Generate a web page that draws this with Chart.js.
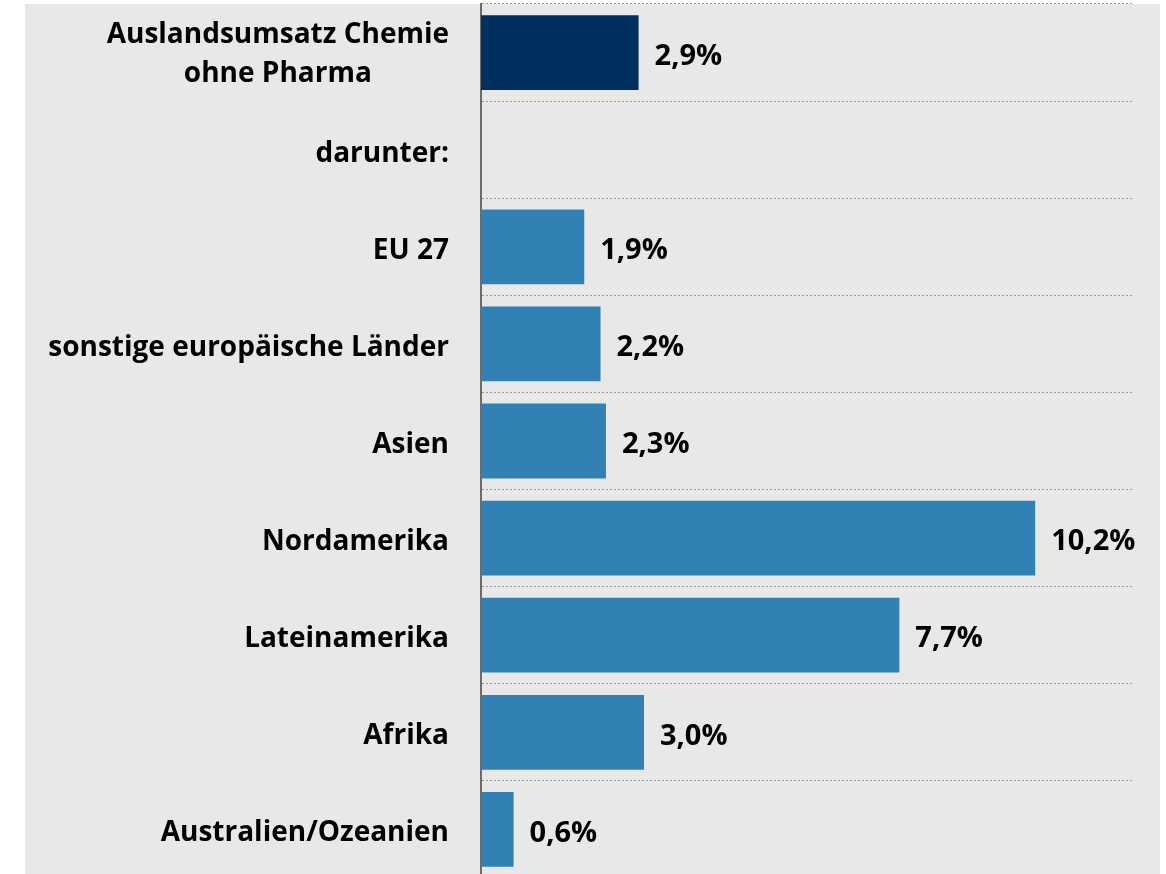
<!DOCTYPE html>
<html><head><meta charset="utf-8">
<script src="https://cdn.jsdelivr.net/npm/chart.js@4.4.0/dist/chart.umd.min.js"></script>
<style>html,body{margin:0;padding:0;background:#fff;overflow:hidden}#wrap{position:relative;width:1166px;height:880px}</style>
</head><body><div id="wrap"><canvas id="c"></canvas></div>
<script>
const categories = [["Auslandsumsatz Chemie","ohne Pharma"],"darunter:","EU 27","sonstige europäische Länder","Asien","Nordamerika","Lateinamerika","Afrika","Australien/Ozeanien"];
const values = [2.9,null,1.9,2.2,2.3,10.2,7.7,3.0,0.6];
const xMin = 0, xMax = 12;

const NAVY = '#00305f', BLUE = '#3181b4', BG = '#e8e8e8';
const FONT = 'bold 28px "Open Sans"';
const VFONT = 'bold 29px "Open Sans"';
const fmt = v => v.toFixed(1).replace('.', ',') + '%';

const bgPlugin = {
  id: 'bg',
  beforeDraw(chart) {
    const {ctx, chartArea} = chart;
    ctx.save();
    ctx.fillStyle = BG;
    ctx.fillRect(25, chartArea.top, 1135, chart.height);
    ctx.restore();
  }
};

const labelPlugin = {
  id: 'labels',
  afterDraw(chart) {
    const {ctx, chartArea} = chart;
    const ys = chart.scales.y;
    ctx.save();
    ctx.font = FONT;
    ctx.fillStyle = '#000';
    ctx.textBaseline = 'middle';
    const right = chartArea.left - 32;
    categories.forEach((lab, i) => {
      const y = ys.getPixelForValue(i);
      if (Array.isArray(lab)) {
        const w = Math.max(...lab.map(l => ctx.measureText(l).width));
        const cx = right - w / 2;
        const lh = 39;
        ctx.textAlign = 'center';
        lab.forEach((l, k) => ctx.fillText(l, cx, y + 2 + (k - (lab.length - 1) / 2) * lh));
      } else {
        ctx.textAlign = 'right';
        ctx.fillText(lab, right, y + 4);
      }
    });
    const meta = chart.getDatasetMeta(0);
    ctx.font = VFONT;
    ctx.textAlign = 'left';
    meta.data.forEach((el, i) => {
      const v = values[i];
      if (v === null || v === undefined) return;
      ctx.fillText(fmt(v), el.x + 16, el.y + 4);
    });
    ctx.restore();
  }
};

new Chart(document.getElementById('c'), {
  type: 'bar',
  data: {
    labels: categories,
    datasets: [{
      data: values,
      backgroundColor: c => c.dataIndex === 0 ? NAVY : BLUE,
      borderWidth: 0,
      barPercentage: 0.77,
      categoryPercentage: 1
    }]
  },
  options: {
    indexAxis: 'y',
    responsive: true,
    maintainAspectRatio: false,
    animation: false,
    layout: {padding: {top: 4, right: 33, bottom: 2, left: 0}},
    plugins: {legend: {display: false}, tooltip: {enabled: false}},
    scales: {
      x: {min: xMin, max: xMax, display: false},
      y: {
        grid: {offset: true, color: '#9a9a9a', lineWidth: 1, drawTicks: false, tickLength: 0},
        border: {display: true, color: '#6b6b6b', width: 2, dash: [2, 2]},
        ticks: {display: false},
        afterFit(s) { s.width = 481; }
      }
    }
  },
  plugins: [bgPlugin, labelPlugin]
});
</script>
</body></html>
